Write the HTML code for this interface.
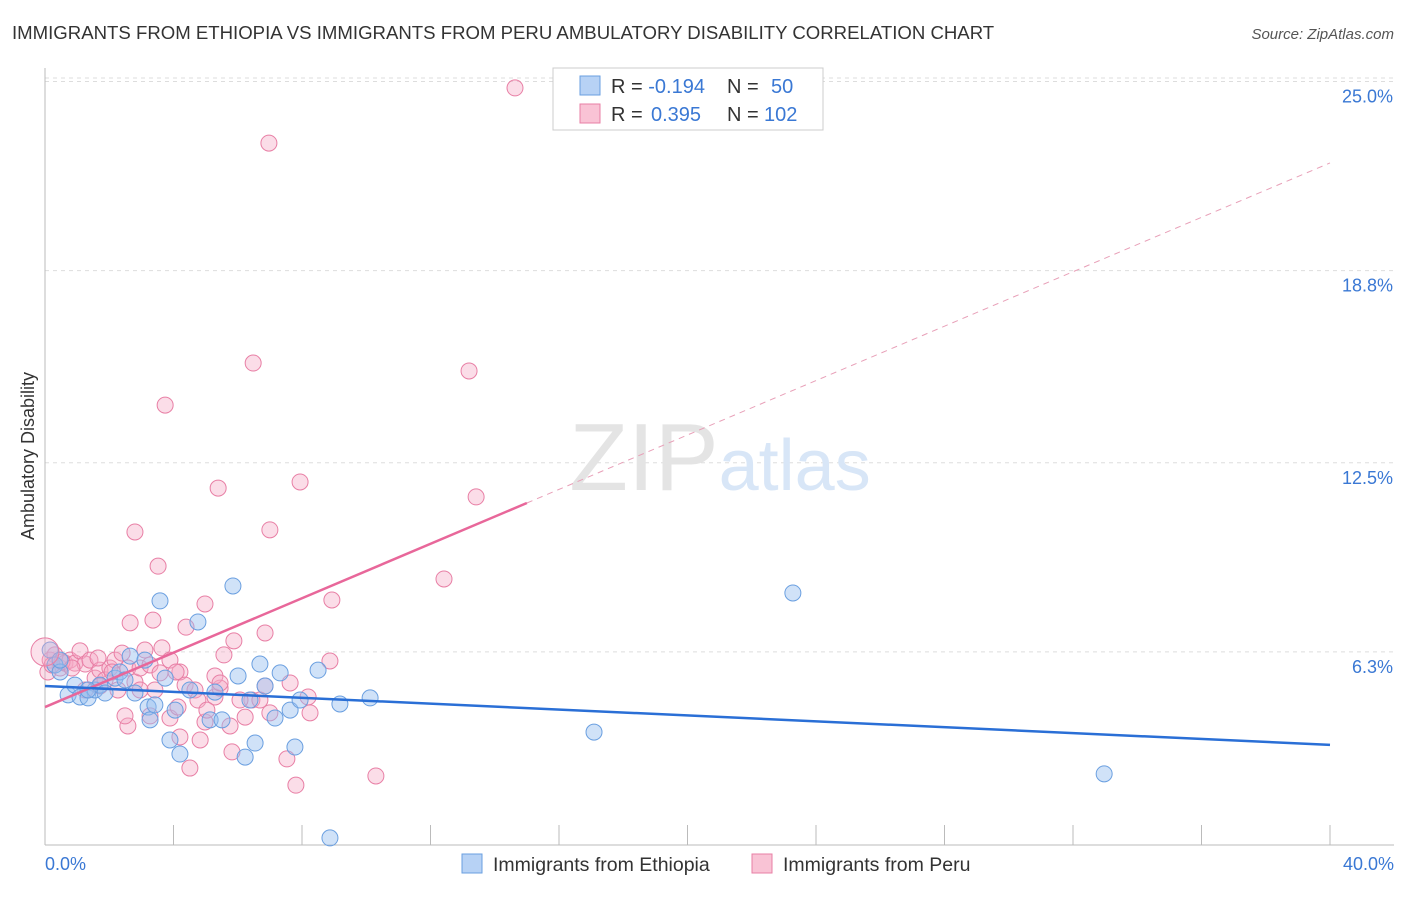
<!DOCTYPE html>
<html><head><meta charset="utf-8"><style>
body{margin:0;background:#fff;font-family:"Liberation Sans",sans-serif}
svg text{font-family:"Liberation Sans",sans-serif}
</style></head><body>
<svg id="chart" width="1406" height="892" viewBox="0 0 1406 892" xmlns="http://www.w3.org/2000/svg">
<text x="12" y="39" font-size="18.6" fill="#333">IMMIGRANTS FROM ETHIOPIA VS IMMIGRANTS FROM PERU AMBULATORY DISABILITY CORRELATION CHART</text>
<text x="1394" y="39" font-size="15" fill="#555" text-anchor="end" font-style="italic">Source: ZipAtlas.com</text>
<g id="grid"></g>
<text x="720" y="490" font-size="96" text-anchor="middle" fill="#e4e4e4" font-family="Liberation Serif">ZIP<tspan fill="#d8e6f7" font-family="Liberation Sans" font-size="72">atlas</tspan></text>
<g id="marks"></g>
<text transform="translate(34,456) rotate(-90)" font-size="18" fill="#333" text-anchor="middle">Ambulatory Disability</text>
<text x="45" y="870" font-size="18" fill="#3a78d4">0.0%</text>
<text x="1394" y="870" font-size="18" fill="#3a78d4" text-anchor="end">40.0%</text>
<g>
<rect x="553" y="68" width="270" height="62" fill="#fff" stroke="#ccc"/>
<rect x="580" y="76" width="20" height="19" fill="#b7d2f5" stroke="#6a9fe0"/>
<rect x="580" y="104" width="20" height="19" fill="#f9c3d5" stroke="#e87fa5"/>
<text x="611" y="93" font-size="20" fill="#333">R = <tspan fill="#3a78d4">-0.194</tspan><tspan x="727">N = </tspan><tspan fill="#3a78d4" x="771">50</tspan></text>
<text x="611" y="121" font-size="20" fill="#333">R = <tspan fill="#3a78d4" x="651">0.395</tspan><tspan x="727">N = </tspan><tspan fill="#3a78d4" x="764">102</tspan></text>
</g>
<g>
<rect x="462" y="854" width="20" height="19" fill="#b7d2f5" stroke="#6a9fe0"/>
<text x="493" y="871" font-size="19.5" fill="#333">Immigrants from Ethiopia</text>
<rect x="752" y="854" width="20" height="19" fill="#f9c3d5" stroke="#e87fa5"/>
<text x="783" y="871" font-size="19.5" fill="#333">Immigrants from Peru</text>
</g>
</svg>
<script>
const yTicks=[25.0,18.8,12.5,6.3];
const yTickLabels=["25.0%","18.8%","12.5%","6.3%"];
const xTicks=[0,4,8,12,16,20,24,28,32,36,40];
const ethX=[0.16,0.31,0.47,0.72,0.93,1.09,1.34,1.56,1.71,1.87,2.18,2.33,2.49,2.65,2.80,3.11,3.21,3.27,3.42,3.58,3.74,3.89,4.05,4.20,4.51,4.76,5.14,5.29,5.51,5.85,6.01,6.23,6.38,6.54,6.69,6.85,7.16,7.32,7.63,7.78,7.94,8.50,8.87,9.18,10.12,17.09,23.28,32.97,1.34,0.47];
const ethY=[6.36,5.87,5.64,4.89,5.21,4.82,4.79,5.05,5.21,4.95,5.44,5.64,5.38,6.16,4.95,6.03,4.49,4.07,4.56,7.97,5.44,3.41,4.39,2.95,5.05,7.28,4.07,4.98,4.07,8.46,5.51,2.85,4.72,3.31,5.90,5.18,4.13,5.61,4.39,3.18,4.72,5.70,0.20,4.59,4.79,3.67,8.23,2.30,5.05,6.03];
const peruX=[14.63,6.97,6.48,13.20,3.74,5.39,7.94,13.42,7.00,2.80,3.52,12.42,4.98,8.93,2.65,3.36,4.39,6.85,5.88,5.57,6.85,7.63,8.87,8.19,8.25,10.30,7.81,7.53,5.82,4.51,4.20,4.83,4.98,5.76,6.23,7.00,2.58,2.49,3.27,3.89,4.14,5.29,5.45,6.44,0.16,0.31,0.47,0.62,0.78,0.93,1.09,1.25,1.40,1.56,1.71,1.87,2.02,2.18,2.27,2.40,2.58,2.80,2.96,3.11,3.27,3.42,3.58,3.64,3.89,4.20,4.36,4.67,4.76,5.04,5.29,5.45,6.07,0.09,0.22,0.53,0.84,1.25,1.71,2.96,4.08,6.69,1.65,2.09];
const peruY=[24.79,22.98,15.77,15.51,14.39,11.67,11.87,11.38,10.30,10.23,9.11,8.69,7.87,8.00,7.25,7.34,7.11,6.92,6.66,6.20,5.18,5.28,6.00,4.82,4.30,2.23,1.93,2.79,3.02,2.49,3.51,3.41,4.00,3.87,4.16,4.30,3.87,4.20,4.20,4.13,4.49,4.82,5.11,4.72,6.03,6.20,5.77,5.93,6.03,5.93,6.33,5.90,6.03,5.44,5.70,5.38,5.77,6.03,5.05,6.26,5.77,5.31,5.77,6.36,5.87,5.05,5.61,6.43,6.03,5.64,5.21,5.05,4.72,4.39,5.51,5.28,4.72,5.64,5.87,5.97,5.77,5.05,5.18,5.05,5.64,4.72,6.10,5.64];
const ethTrend=[5.18,3.25];
const peruTrend=[4.49,22.33];
const peruSolidEnd=15.0;
const X=v=>45+v/40*1285, Y=v=>844-v*30.5;
const NS="http://www.w3.org/2000/svg";
function mk(parent,tag,attrs){const e=document.createElementNS(NS,tag);for(const k in attrs)e.setAttribute(k,attrs[k]);document.getElementById(parent).appendChild(e);return e;}
yTicks.forEach((t,i)=>{
 const l=mk('grid','line',{x1:45,x2:1394,y1:Y(t),y2:Y(t),stroke:'#ddd','stroke-dasharray':'4,4'});
 
 
 const tx=mk('grid','text',{x:1393,y:Y(t)+21,'font-size':18,fill:'#3a78d4','text-anchor':'end'});
 tx.textContent=yTickLabels[i];
 
 
});
const topLine=mk('grid','line',{x1:45,x2:1394,y1:78,y2:78,stroke:'#ddd','stroke-dasharray':'4,4'});


const axX=mk('grid','line',{x1:45,x2:1394,y1:845,y2:845,stroke:'#bbb'});


const axY=mk('grid','line',{x1:45,x2:45,y1:68,y2:845,stroke:'#bbb'});


xTicks.forEach(t=>{
 const l=mk('grid','line',{x1:X(t),x2:X(t),y1:825,y2:845,stroke:'#bbb'});
 
 
});
function dot(x,y,cls){
 const c=mk('marks','circle',{cx:X(x),cy:Y(y),r:8,fill:cls=='e'?'rgba(150,190,240,0.45)':'rgba(245,170,198,0.4)',stroke:cls=='e'?'#6a9fe0':'#e87fa5','stroke-width':1});
 
 
}
peruX.forEach((x,i)=>dot(x,peruY[i],'p'));
ethX.forEach((x,i)=>dot(x,ethY[i],'e'));
const big=mk('marks','circle',{cx:X(0),cy:Y(6.3),r:14,fill:'rgba(245,170,198,0.35)',stroke:'#e87fa5'});


const pY=x=>peruTrend[0]+(peruTrend[1]-peruTrend[0])*x/40;
const pd=mk('marks','line',{x1:X(peruSolidEnd),y1:Y(pY(peruSolidEnd)),x2:X(40),y2:Y(peruTrend[1]),stroke:'#e8a0b8','stroke-dasharray':'6,5','stroke-width':1});


const ps=mk('marks','line',{x1:X(0),y1:Y(peruTrend[0]),x2:X(peruSolidEnd),y2:Y(pY(peruSolidEnd)),stroke:'#e8679a','stroke-width':2.5});


const et=mk('marks','line',{x1:X(0),y1:Y(ethTrend[0]),x2:X(40),y2:Y(ethTrend[1]),stroke:'#2a6fd6','stroke-width':2.5});


</script>
</body></html>
